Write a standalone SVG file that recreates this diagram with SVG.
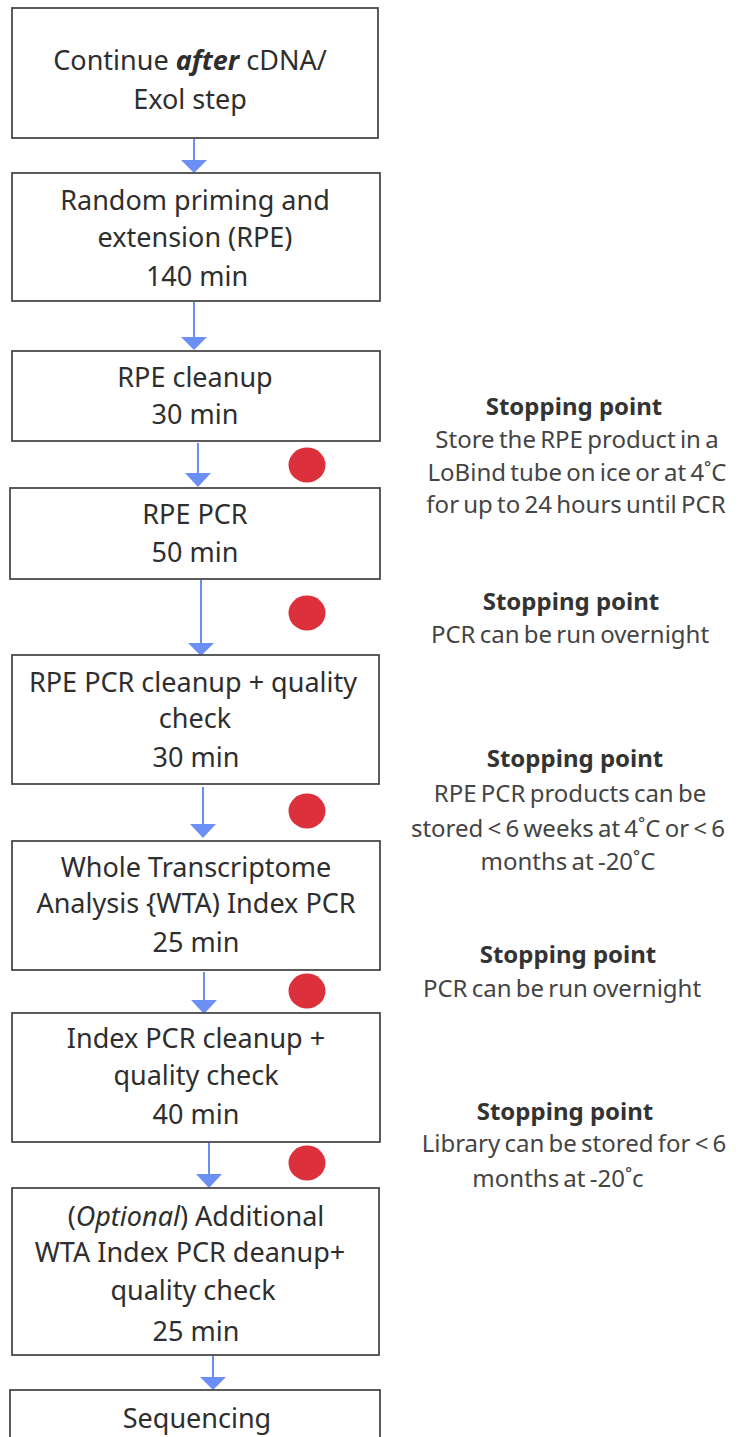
<svg xmlns="http://www.w3.org/2000/svg" width="749" height="1437" viewBox="0 0 749 1437">
<defs>
<style>
.box{fill:#fff;stroke:#4a4a4a;stroke-width:1.8}
.t{font-family:"Noto Sans","Open Sans",sans-serif;font-size:27px;fill:#2e2e2e;text-anchor:middle}
.r{font-family:"Noto Sans","Open Sans",sans-serif;font-size:24px;fill:#444;text-anchor:middle;word-spacing:-2px}
.b{font-weight:bold;fill:#333;word-spacing:0}
.ln{stroke:#6b8ff5;stroke-width:2;fill:none}
.hd{fill:#6b8ff5}
.dot{fill:#dc313d}
</style>
</defs>
<rect width="749" height="1437" fill="#fff"/>
<g id="connectors">
<line class="ln" x1="194" y1="139" x2="194" y2="162"/><polygon class="hd" points="181,160 207,160 194,173"/>
<line class="ln" x1="194" y1="302" x2="194" y2="339"/><polygon class="hd" points="181,337 207,337 194,350"/>
<line class="ln" x1="198" y1="443" x2="198" y2="475"/><polygon class="hd" points="185,473 211,473 198,487"/>
<line class="ln" x1="201" y1="580" x2="201" y2="645"/><polygon class="hd" points="188,643 214,643 201,656"/>
<line class="ln" x1="203" y1="787" x2="203" y2="826"/><polygon class="hd" points="190,824 216,824 203,838"/>
<line class="ln" x1="204" y1="972" x2="204" y2="1002"/><polygon class="hd" points="191,1000 217,1000 204,1014"/>
<line class="ln" x1="209" y1="1142" x2="209" y2="1176"/><polygon class="hd" points="196,1174 222,1174 209,1188"/>
<line class="ln" x1="213" y1="1355" x2="213" y2="1379"/><polygon class="hd" points="200,1377 226,1377 213,1390"/>
</g>
<g id="n1"><rect class="box" x="12" y="8" width="366" height="130"/>
<text class="t" x="190" y="70">Continue <tspan font-weight="bold" font-style="italic">after</tspan> cDNA/</text>
<text class="t" x="190" y="109">Exol step</text></g>
<g id="n2"><rect class="box" x="12" y="173" width="368" height="128"/>
<text class="t" x="195" y="210">Random priming and</text>
<text class="t" x="195" y="247">extension (RPE)</text>
<text class="t" x="197" y="286">140 min</text></g>
<g id="n3"><rect class="box" x="12" y="351" width="368" height="90"/>
<text class="t" x="195" y="387">RPE cleanup</text>
<text class="t" x="195" y="424">30 min</text></g>
<g id="n4"><rect class="box" x="10" y="488" width="370" height="91"/>
<text class="t" x="195" y="524">RPE PCR</text>
<text class="t" x="195" y="562">50 min</text></g>
<g id="n5"><rect class="box" x="12" y="655" width="367" height="129"/>
<text class="t" x="193" y="692">RPE PCR cleanup + quality</text>
<text class="t" x="195" y="728">check</text>
<text class="t" x="196" y="767">30 min</text></g>
<g id="n6"><rect class="box" x="12" y="841" width="368" height="129"/>
<text class="t" x="196" y="877">Whole Transcriptome</text>
<text class="t" x="196" y="913">Analysis {WTA) Index PCR</text>
<text class="t" x="196" y="952">25 min</text></g>
<g id="n7"><rect class="box" x="12" y="1013" width="368" height="129"/>
<text class="t" x="196" y="1048">Index PCR cleanup +</text>
<text class="t" x="196" y="1085">quality check</text>
<text class="t" x="196" y="1124">40 min</text></g>
<g id="n8"><rect class="box" x="12" y="1188" width="367" height="167"/>
<text class="t" x="196" y="1226">(<tspan font-style="italic">Optional</tspan>)  Additional</text>
<text class="t" x="190" y="1262">WTA Index PCR deanup+</text>
<text class="t" x="193" y="1300">quality check</text>
<text class="t" x="196" y="1341">25 min</text></g>
<g id="n9"><rect class="box" x="10" y="1390" width="370" height="60"/>
<text class="t" x="197" y="1428">Sequencing</text></g>
<g id="stops">
<ellipse class="dot" cx="307" cy="465" rx="18.5" ry="17.5"/>
<ellipse class="dot" cx="307" cy="613" rx="18.5" ry="17.5"/>
<ellipse class="dot" cx="307" cy="811" rx="18.5" ry="17.5"/>
<ellipse class="dot" cx="307" cy="991" rx="18.5" ry="17.5"/>
<ellipse class="dot" cx="307" cy="1163" rx="18.5" ry="17.5"/>
</g>
<g id="notes">
<text class="r b" x="574" y="415">Stopping point</text>
<text class="r" x="577" y="448">Store the RPE product in a</text>
<text class="r" x="577" y="481">LoBind tube on ice or at 4˚C</text>
<text class="r" x="576" y="513">for up to 24 hours until  PCR</text>
<text class="r b" x="571" y="610">Stopping point</text>
<text class="r" x="570" y="643">PCR can be run overnight</text>
<text class="r b" x="575" y="767">Stopping  point</text>
<text class="r" x="570" y="802">RPE PCR products can be</text>
<text class="r" x="568" y="837">stored &lt; 6 weeks at 4˚C or &lt; 6</text>
<text class="r" x="568" y="870">months at -20˚C</text>
<text class="r b" x="568" y="963">Stopping  point</text>
<text class="r" x="562" y="997">PCR can be run overnight</text>
<text class="r b" x="565" y="1120">Stopping point</text>
<text class="r" x="574" y="1152">Library can be stored for &lt; 6</text>
<text class="r" x="558" y="1187">months at  -20˚c</text>
</g>
</svg>
